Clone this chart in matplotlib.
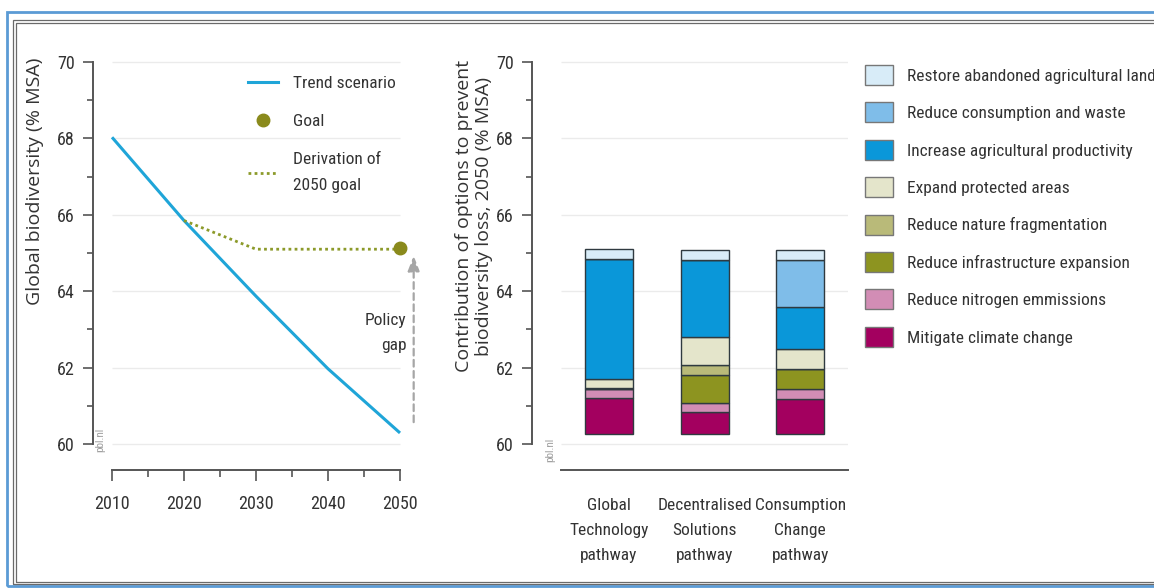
import numpy as np
import matplotlib
matplotlib.use('Agg')
import matplotlib.pyplot as plt
import matplotlib.patches as patches
from matplotlib.lines import Line2D
from matplotlib.ticker import MultipleLocator

plt.rcParams['font.family'] = ['Roboto Condensed', 'Liberation Sans Narrow', 'Roboto', 'DejaVu Sans']

# ── Data ──────────────────────────────────────────────────────────────────────
trend_years  = [2010, 2020, 2030, 2040, 2050]
trend_values = [68.03, 65.85, 63.87, 61.97, 60.29]

deriv_years  = [2020, 2030, 2050]
deriv_values = [65.85, 65.10, 65.10]

goal_year, goal_value = 2050, 65.12

pathways = ['Global\nTechnology\npathway',
            'Decentralised\nSolutions\npathway',
            'Consumption\nChange\npathway']
bar_base = 60.26

# stacked bottom -> top
options = ['Mitigate climate change',
           'Reduce nitrogen emmissions',
           'Reduce infrastructure expansion',
           'Reduce nature fragmentation',
           'Expand protected areas',
           'Increase agricultural productivity',
           'Reduce consumption and waste',
           'Restore abandoned agricultural lands']
climate        = [0.94, 0.58, 0.93]
nitrogen       = [0.23, 0.23, 0.26]
infrastructure = [0.00, 0.74, 0.52]
fragmentation  = [0.03, 0.26, 0.00]
protected      = [0.23, 0.73, 0.53]
productivity   = [3.15, 2.03, 1.10]
consumption    = [0.00, 0.00, 1.23]
restore        = [0.26, 0.26, 0.26]
contrib = [climate, nitrogen, infrastructure, fragmentation,
           protected, productivity, consumption, restore]

colors = ['#a3005f', '#d28db5', '#8d9420', '#b9ba79',
          '#e4e5cb', '#0a97d9', '#7fbde9', '#d8ecf8']

# ── Figure ────────────────────────────────────────────────────────────────────
W_PX, H_PX = 1154, 588
fig = plt.figure(figsize=(W_PX/100, H_PX/100), dpi=100)

def px_box(x0, y_top, x1, y_bot):
    return [x0/W_PX, 1-y_bot/H_PX, (x1-x0)/W_PX, (y_bot-y_top)/H_PX]

# frames round the picture
fig.patches.append(patches.Rectangle((7/W_PX, 2/H_PX), 1.2, 1-14/H_PX,
                   transform=fig.transFigure, fill=False, ec='#5b9bd5', lw=2))
for off in (0, 2.5):
    fig.patches.append(patches.Rectangle(((13+off)/W_PX, (4+off)/H_PX), 1.2,
                       1-(24+2*off)/H_PX, transform=fig.transFigure,
                       fill=False, ec='#6a6a6a', lw=0.9))

ax1 = fig.add_axes(px_box(93, 58.2, 421.6, 470))
ax2 = fig.add_axes(px_box(532, 58.2, 848, 470))

AX_COL = '#555555'
TXT_COL = '#333333'
FS = 12.5
TICK_FS = 13
LAB_FS = 14
LAB_FONT = ['Open Sans', 'Noto Sans', 'DejaVu Sans']

def style_axis(ax, xb):
    for s in ('top', 'right'):
        ax.spines[s].set_visible(False)
    ax.spines['left'].set_bounds(60, 70)
    ax.spines['bottom'].set_bounds(*xb)
    for s in ('left', 'bottom'):
        ax.spines[s].set_color(AX_COL)
        ax.spines[s].set_linewidth(1.4)
    ax.set_ylim(59.32, 70.1)
    ax.yaxis.set_major_locator(MultipleLocator(2))
    ax.yaxis.set_minor_locator(MultipleLocator(1))
    ax.tick_params(axis='y', which='major', length=7, width=1.2, color=AX_COL,
                   labelsize=TICK_FS, labelcolor=TXT_COL, pad=6)
    ax.tick_params(axis='y', which='minor', length=4, width=1.2, color=AX_COL)
    ax.hlines(np.arange(60, 71, 2), xb[0], xb[1], color='#ebebeb', lw=1, zorder=0)

# ── Left: trend vs goal ───────────────────────────────────────────────────────
ax1.set_xlim(2007.36, 2053)
style_axis(ax1, (2010, 2050))
ax1.xaxis.set_major_locator(MultipleLocator(10))
ax1.xaxis.set_minor_locator(MultipleLocator(5))
ax1.tick_params(axis='x', which='major', length=8, width=1.2, color=AX_COL,
                labelsize=TICK_FS, labelcolor=TXT_COL, pad=10)
ax1.tick_params(axis='x', which='minor', length=5, width=1.2, color=AX_COL)

ax1.plot(trend_years, trend_values, color='#1fa5d8', lw=2.2, solid_capstyle='butt')
ax1.plot(deriv_years, deriv_values, color='#8c9a2a', lw=2, ls=(0, (1, 1.2)))
ax1.plot(goal_year, goal_value, 'o', color='#8a8a1c', ms=9, zorder=5)

ax1.annotate('', xy=(2051.9, 65.0), xytext=(2051.9, 60.5),
             arrowprops=dict(arrowstyle='-|>,head_width=0.35,head_length=0.9',
                             color='#a6a6a6', lw=1.6, ls=(0, (3, 2))))
ax1.text(2050.9, 62.9, 'Policy\ngap', ha='right', va='center', fontsize=FS,
         color=TXT_COL, linespacing=1.85, multialignment='right')
ax1.text(2008.3, 60.1, 'pbl.nl', rotation=90, fontsize=8, color='#a0a0a0',
         ha='center', va='center')

h_trend = Line2D([], [], color='#1fa5d8', lw=2.2)
h_goal  = Line2D([], [], marker='o', color='#8a8a1c', ls='none', ms=9)
h_deriv = Line2D([], [], color='#8c9a2a', lw=2, ls=(0, (1, 1.2)))
leg1 = ax1.legend([h_trend, h_goal, h_deriv],
                  ['Trend scenario', 'Goal', 'Derivation of\n2050 goal'],
                  loc='upper left', bbox_to_anchor=(0.425, 0.995), frameon=False,
                  fontsize=FS, handlelength=1.7, handletextpad=0.85,
                  labelspacing=1.32, labelcolor=TXT_COL)
leg1.get_texts()[2].set_linespacing(1.95)

fig.text(35/W_PX, 1-58/H_PX, 'Global biodiversity (% MSA)', rotation=90,
         ha='center', va='top', fontsize=LAB_FS, color=TXT_COL, family=LAB_FONT)

# ── Right: stacked contributions ──────────────────────────────────────────────
ax2.set_xlim(-0.806, 2.5)
style_axis(ax2, (-0.5, 2.5))
xs = np.arange(len(pathways))
bottom = np.full(len(pathways), bar_base)
for vals, col in zip(contrib, colors):
    vals = np.array(vals)
    ax2.bar(xs, vals, 0.5, bottom=bottom, color=col, edgecolor='#2f3a40',
            lw=1, zorder=3)
    bottom = bottom + vals
ax2.set_xticks(xs)
ax2.set_xticklabels(pathways, fontsize=FS, color=TXT_COL)
for t in ax2.get_xticklabels():
    t.set_linespacing(1.85)
ax2.tick_params(axis='x', length=0, pad=20)
ax2.text(-0.62, 59.85, 'pbl.nl', rotation=90, fontsize=8, color='#a0a0a0',
         ha='center', va='center')

fig.text(474/W_PX, 1-60/H_PX,
         'Contribution of options to prevent\nbiodiversity loss, 2050 (% MSA)',
         rotation=90, ha='center', va='top', fontsize=LAB_FS, color=TXT_COL,
         linespacing=1.15, family=LAB_FONT)

handles = [patches.Patch(facecolor=c, edgecolor='#777777', lw=1) for c in colors]
fig.legend(handles[::-1], options[::-1], loc='upper left',
           bbox_to_anchor=(858/W_PX, 1-58/H_PX), frameon=False, fontsize=FS,
           handlelength=1.6, handleheight=1.4, handletextpad=0.85,
           labelspacing=1.0, labelcolor=TXT_COL, borderaxespad=0)

fig.savefig('out.png', dpi=100)
